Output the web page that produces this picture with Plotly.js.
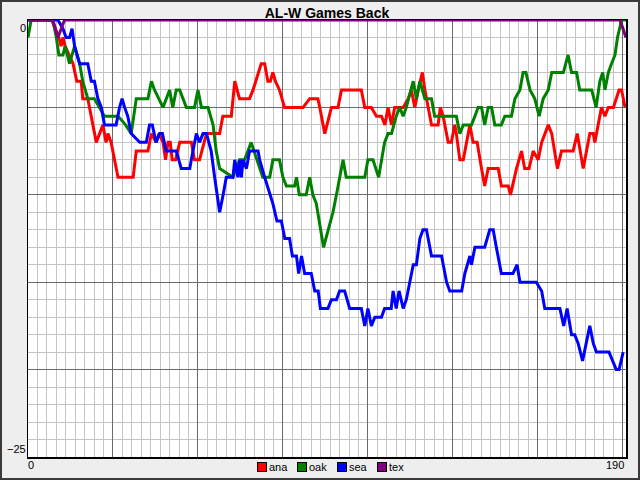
<!DOCTYPE html>
<html>
<head>
<meta charset="utf-8">
<script src="https://cdn.plot.ly/plotly-3.0.1.min.js"></script>
<style>
  body { margin: 0; }
  #chart { width: 640px; height: 480px; background: #eeeeee; box-shadow: inset 0 0 0 2px #3a3a3a; }
</style>
</head>
<body>
<div id="chart"></div>
<script>
// games back per team at the turning points
const teams = ['ana', 'oak', 'sea', 'tex'];
const teamColors = ['#ff0000', '#008000', '#0000ff', '#800080'];

const anaGames = [0, 7.5, 9.8, 10.5, 11.1, 11.8, 14.3, 15.5, 16.9, 17.4, 19, 20.1, 21.7, 23.8, 24.8, 25.4, 26.4, 28.6, 33.4, 34.4, 36, 38.1, 39.2, 40.7, 41.6, 42.9, 43.7, 44.5, 45.2, 45.8, 46.9, 48.2, 51.9, 52.9, 54.5, 56.7, 60.9, 61.9, 64.6, 65.7, 67.2, 70.4, 71.5, 73.1, 74.1, 75.2, 76.2, 77, 77.8, 78.6, 79.9, 81.5, 87.4, 89.5, 92.1, 92.7, 94.3, 96.4, 98.5, 99.6, 105.9, 107, 109.1, 110.7, 112.3, 113.4, 114.4, 115.5, 116.5, 119.2, 120.8, 121.8, 122.9, 124, 125.3, 126.1, 127.1, 128.2, 130.3, 131, 131.9, 133.5, 134.5, 135.6, 136.1, 137.2, 138.3, 139.3, 140.4, 141.4, 142.7, 144.1, 145.1, 146.2, 149.4, 150.4, 152.6, 153.3, 155.2, 156.8, 157.8, 159.2, 160.5, 162.1, 163.2, 165.3, 166.4, 168.2, 169.5, 173.2, 174.5, 176.4, 178.5, 179.6, 180.1, 182.2, 183.3, 184.4, 186, 187.8, 188.6, 189.7];
const anaBack = [0, 0, -1, -1.5, -1, -1.5, -2.5, -3.5, -3.5, -4.5, -4.5, -5.5, -7, -6, -7, -6.5, -7, -9, -9, -7.5, -7.5, -7.5, -6.5, -7, -6.5, -7, -8, -7, -7, -8, -8, -7, -7, -8, -8, -6.5, -6.5, -5.5, -5.5, -3.5, -4.5, -4.5, -4, -3, -2.5, -2.5, -3.5, -3.5, -3, -3.5, -4, -5, -5, -4.5, -4.5, -5, -6.5, -5, -5, -4, -4, -5, -5, -5.5, -5.5, -6, -5, -6, -5, -5, -4.5, -4, -5, -4, -3, -4, -5, -6, -6, -5, -5.5, -7, -7, -6, -6.5, -8, -8, -7, -6, -7, -7, -8.5, -9.5, -8.5, -8.5, -9.5, -9.5, -10, -8.5, -7.5, -8.5, -8.5, -7.5, -8, -7, -6, -6.5, -8.5, -7.5, -7.5, -6.5, -8.5, -6.5, -6.5, -7, -5, -5.5, -5, -5, -4, -4, -5];

const oakGames = [0, 1, 7.9, 9, 9.8, 11.1, 11.8, 13.2, 14, 14.8, 16.4, 17.4, 19, 21.1, 24.3, 28.6, 31, 32.8, 34.4, 38.1, 39.2, 40.2, 42.9, 43.9, 45, 46, 47.1, 48.2, 50.3, 52.9, 54, 55.1, 57.2, 58.8, 59.8, 60.9, 65.1, 67.2, 68.8, 70.9, 73.6, 74.6, 76.8, 77.8, 79.9, 81, 82.1, 84.7, 85.3, 86.2, 88.4, 89.5, 90.5, 91.6, 93.9, 95.3, 96.9, 98, 99.1, 100.1, 101.1, 107, 108, 109.6, 111.4, 112.3, 113.3, 114.4, 115.5, 117, 118.1, 119.2, 120.2, 122.4, 123.4, 124.5, 126.1, 128.2, 129.2, 136.1, 137.2, 138.3, 140.9, 142, 143, 144.1, 145.1, 146.2, 147.3, 148.3, 150.4, 151.5, 153.6, 154.7, 156.3, 157.3, 158.2, 159.5, 161, 162.4, 163.7, 165.3, 166.4, 167.9, 170.1, 171.6, 172.7, 174.3, 175.3, 179.1, 180.5, 181.7, 182.6, 183.3, 184.4, 185.4, 186.5, 187.3, 188.6, 190];
const oakBack = [-1, 0, 0, -1, -2, -2, -1.5, -2.5, -2, -1.5, -2.5, -3.5, -4.5, -4.5, -5.5, -5.5, -6, -6.5, -4.5, -4.5, -3.5, -4, -5, -4.5, -4, -5, -4, -4, -5, -5, -4, -5, -5, -6, -7.5, -8.5, -9, -8, -8, -7, -8.5, -9, -9, -8, -8, -9, -9.5, -9.5, -9, -10, -10, -9, -10, -10.5, -13, -12, -11, -10, -9, -8, -9, -9, -8, -8, -9, -8, -7, -6.5, -6.5, -5.5, -5, -5.5, -5, -3.5, -4.5, -3.5, -4.5, -4.5, -5.5, -5.5, -6.5, -6, -6, -5.5, -5, -5, -6, -5, -5, -6, -6, -5.5, -5.5, -4.5, -4, -3, -3, -4, -4.5, -5.5, -4.5, -4, -3, -3, -3, -2, -3, -3, -4, -4, -5, -3.5, -3, -4, -3, -2.5, -2, -1, 0, 0];

const seaGames = [0, 8.4, 9.5, 11.1, 12.1, 13.2, 14, 14.8, 16.4, 19, 20.1, 21.1, 22.2, 23.3, 24.3, 25.4, 28, 29.1, 29.9, 30.7, 31.7, 32.8, 35.5, 37.6, 38.6, 39.5, 40.7, 41.8, 42.7, 43.9, 47.1, 48.7, 51.4, 52.4, 53.5, 54.5, 55.6, 56.7, 58.2, 59.3, 60.9, 62, 63, 65.1, 65.7, 66.7, 67.3, 67.8, 68.3, 69.4, 70.4, 73.1, 73.6, 75.2, 76.8, 77.8, 79.1, 80.5, 81.6, 83.1, 84, 85.3, 86, 86.9, 87.9, 90, 91.1, 92.2, 92.9, 95.3, 96.4, 98, 99, 100.6, 102.2, 105.9, 107, 108, 109.1, 110.2, 112.3, 113.3, 115.4, 116, 117, 117.9, 119.2, 120.2, 121.3, 122.4, 123.4, 124.5, 125.5, 126.6, 128.2, 131.4, 133, 134, 137.8, 138.8, 140.4, 140.9, 142, 145.1, 146.7, 147.8, 148.8, 150.4, 154.1, 155.4, 156.3, 161.5, 163.2, 164.2, 169, 170.2, 171.3, 172.7, 173.7, 174.8, 176.2, 177.4, 178.5, 179.6, 180.6, 184.6, 185.7, 186.9, 187.8, 188.4, 189.1];
const seaBack = [0, 0, 0, -0.5, -1, -1, -0.5, -1.5, -2.5, -2.5, -3.5, -3.5, -4.5, -5, -6, -6, -6, -5, -4.5, -5, -5.5, -6.5, -7, -7, -6, -6, -7, -6.5, -6.5, -7.5, -7.5, -8.5, -8.5, -7.5, -6.5, -7, -6.5, -6.5, -7.5, -9, -11, -10, -9, -9, -8, -9, -8, -9, -8, -8.5, -7.5, -7.5, -8, -9, -10, -10.5, -11.5, -11.5, -12.5, -12.5, -13.5, -13.5, -14.5, -13.5, -14.5, -14.5, -15.5, -15.5, -16.5, -16.5, -16, -16, -15.5, -15.5, -16.5, -16.5, -17.5, -16.5, -17.5, -17, -17, -16.5, -16.5, -15.5, -16.5, -15.5, -16.5, -16, -15, -14, -14, -12.5, -12, -12, -13.5, -13.5, -15, -15.5, -15.5, -14.5, -13.5, -14, -13, -13, -12, -12, -13, -14.5, -14.5, -14, -15, -15, -15.5, -16.5, -16.5, -17.5, -16.5, -18, -18, -18.5, -19.5, -18.5, -17.5, -18.5, -19, -19, -19.5, -20, -20, -19.5, -19];

const texGames = [0, 7.9, 9.5, 10.5, 11.6, 188.1, 190];
const texBack = [0, 0, -1, -0.5, 0, 0, -1];

const allGames = [anaGames, oakGames, seaGames, texGames];
const allBack = [anaBack, oakBack, seaBack, texBack];

// axis end labels
const xLabelVals = [0, 190];
const xLabelText = ['0', '190'];
const yLabelVals = [0, -25];
const yLabelText = ['0', '\u221225'];

const labelFont = { family: 'Liberation Sans, Arial, sans-serif', size: 11, color: '#000' };

const traces = teams.map(function (t, i) {
  return {
    x: allGames[i], y: allBack[i], type: 'scatter', mode: 'lines', name: t,
    line: { color: teamColors[i], width: 3 }, hoverinfo: 'skip', cliponaxis: false
  };
});

const annotations = [];
xLabelVals.forEach(function (v, i) {
  annotations.push({
    xref: 'x', yref: 'paper', x: v, y: 0, yanchor: 'top', xanchor: i === 0 ? 'left' : 'right',
    xshift: i === 0 ? -2 : 0, text: xLabelText[i], showarrow: false, font: labelFont
  });
});
yLabelVals.forEach(function (v, i) {
  annotations.push({
    xref: 'paper', yref: 'y', x: 0, y: v, xanchor: 'right', yanchor: i === 0 ? 'top' : 'bottom',
    text: yLabelText[i], showarrow: false, font: labelFont
  });
});
// legend row under the plot: small bordered swatch, then the team name
teams.forEach(function (t, i) {
  annotations.push({
    xref: 'paper', yref: 'paper', x: 0.5, y: 0, xshift: -65.5 + 40 * i, yshift: -10,
    xanchor: 'center', yanchor: 'middle', text: ' ', showarrow: false,
    width: 8, height: 8, borderpad: 0, bgcolor: teamColors[i], bordercolor: '#000', borderwidth: 1,
    font: { size: 6 }
  });
  annotations.push({
    xref: 'paper', yref: 'paper', x: 0.5, y: 0, xshift: -60.5 + 40 * i, yshift: -10,
    xanchor: 'left', yanchor: 'middle', text: t, showarrow: false, font: labelFont
  });
});

const layout = {
  width: 640, height: 480,
  margin: { l: 28, r: 14, t: 20, b: 23, autoexpand: false },
  paper_bgcolor: 'rgba(0,0,0,0)',
  plot_bgcolor: '#ffffff',
  title: {
    text: '<b>AL-W Games Back</b>', x: 0.5, xref: 'paper', y: 0.9733, yref: 'container', yanchor: 'middle',
    font: { family: 'Liberation Sans, Arial, sans-serif', size: 14, color: '#000' }
  },
  xaxis: {
    range: [0, 190], tickmode: 'linear', tick0: 0, dtick: 27,
    showticklabels: false, ticks: '', zeroline: false,
    showgrid: true, gridcolor: '#6a6a6a', gridwidth: 1,
    minor: { tickmode: 'linear', dtick: 3, tick0: 0, showgrid: true, gridcolor: '#c4c4c4', gridwidth: 1, ticks: '' },
    showline: true, mirror: true, linecolor: '#000', linewidth: 1.5, layer: 'below traces'
  },
  yaxis: {
    range: [-25, 0], tickmode: 'linear', tick0: 0, dtick: 5,
    showticklabels: false, ticks: '', zeroline: false,
    showgrid: true, gridcolor: '#6a6a6a', gridwidth: 1,
    minor: { tickmode: 'linear', dtick: 1, tick0: 0, showgrid: true, gridcolor: '#c4c4c4', gridwidth: 1, ticks: '' },
    showline: true, mirror: true, linecolor: '#000', linewidth: 1.5, layer: 'below traces'
  },
  showlegend: false,
  annotations: annotations,
  hovermode: false
};

Plotly.newPlot('chart', traces, layout, { displayModeBar: false, staticPlot: true });
</script>
</body>
</html>
